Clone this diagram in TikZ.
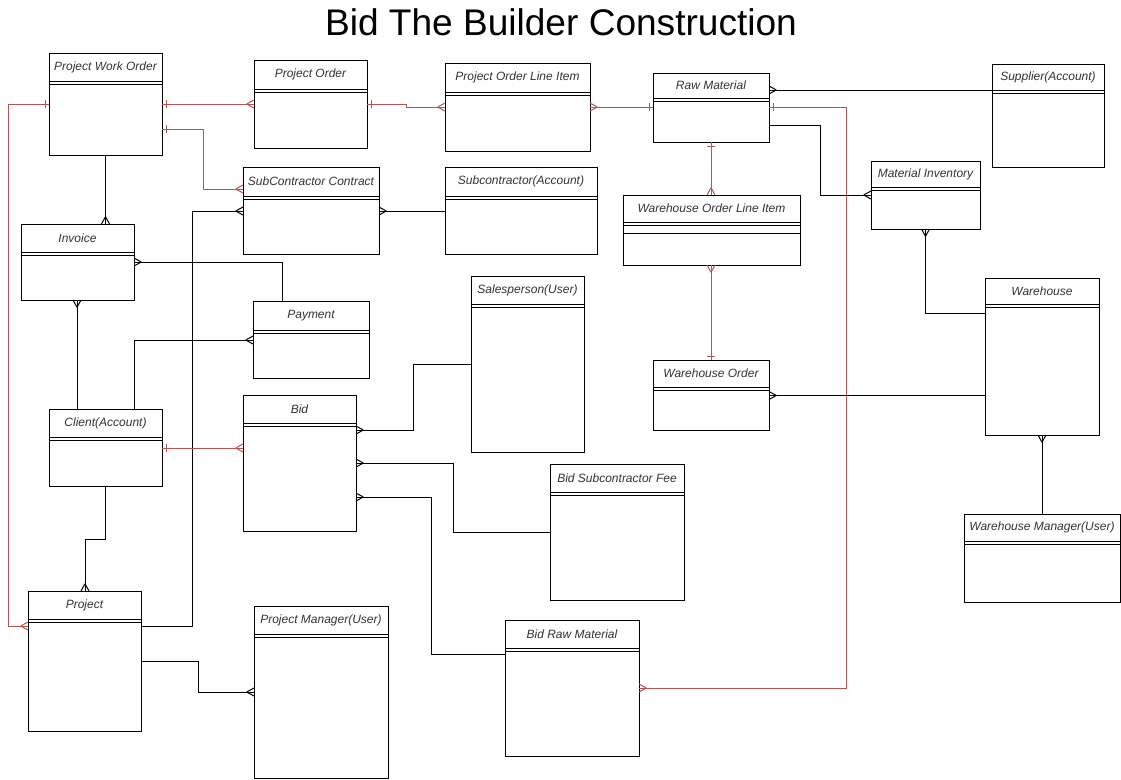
\documentclass[tikz,border=0pt]{standalone}
\usepackage{fontspec}
\setmainfont{Liberation Sans}
\usetikzlibrary{decorations.markings}
\definecolor{er}{RGB}{184,84,80}
\definecolor{ink}{RGB}{0,0,0}
\definecolor{txt}{RGB}{51,51,51}
\tikzset{
  ent/.style={draw=ink, line width=0.75pt, fill=white, inner sep=0pt, outer sep=0pt, rectangle},
  sepline/.style={draw=ink, line width=0.75pt},
  etitle/.style={font=\fontsize{9}{11}\selectfont\itshape, text=txt, inner sep=0pt},
  conn/.style={line width=0.75pt, draw=#1},
  conn/.default=ink,
  crowE/.style={postaction={decorate,decoration={markings,mark=at position 1 with {\draw[#1,line width=0.75pt] (-5.5pt,0)--(0,3pt) (-5.5pt,0)--(0,-3pt);}}}},
  crowE/.default=ink,
  crowS/.style={postaction={decorate,decoration={markings,mark=at position 0 with {\draw[#1,line width=0.75pt] (5.5pt,0)--(0,3pt) (5.5pt,0)--(0,-3pt);}}}},
  crowS/.default=ink,
  barE/.style={postaction={decorate,decoration={markings,mark=at position 1 with {\draw[#1,line width=0.75pt] (-3pt,-3pt)--(-3pt,3pt);}}}},
  barE/.default=ink,
  barS/.style={postaction={decorate,decoration={markings,mark=at position 0 with {\draw[#1,line width=0.75pt] (3pt,-3pt)--(3pt,3pt);}}}},
  barS/.default=ink,
}
% name, x1, y1, x2, y2, separator y, title
\newcommand\entity[7]{%
  \pgfmathsetmacro\ew{(#4-#2)*0.75}%
  \pgfmathsetmacro\eh{(#5-#3)*0.75}%
  \node[ent, minimum width=\ew pt, minimum height=\eh pt, anchor=north west] (#1) at (#2,#3) {};
  \draw[sepline] (#2,#6) -- (#4,#6) (#2,#6+3.5) -- (#4,#6+3.5);
  \node[etitle] (#1-t) at ({(#2+#4)/2},{(#3+#6)/2}) {#7};
}
\begin{document}
\begin{tikzpicture}[x=0.75pt,y=-0.75pt]
\useasboundingbox (0,0) rectangle (1121,779);
\node[font=\fontsize{27.8}{32}\selectfont, text=black] (title) at (561,22) {Bid The Builder Construction};

% entities
\entity{pwo}{49}{53}{162}{155}{81}{Project Work Order}
\entity{po}{254}{60}{367}{148}{89}{Project Order}
\entity{poli}{445}{63}{590}{151}{92}{Project Order Line Item}
\entity{rm}{653}{73}{769}{142}{98}{Raw Material}
\entity{sup}{992}{64}{1104}{167}{90}{Supplier(Account)}
\entity{scc}{243}{167}{379}{254}{196}{SubContractor Contract}
\entity{sca}{445}{167}{597}{254}{196}{Subcontractor(Account)}
\entity{woli}{623}{195}{800}{265}{222}{Warehouse Order Line Item}
\draw[sepline] (623,233) -- (800,233);
\entity{mi}{871}{161}{980}{229}{187}{Material Inventory}
\entity{wh}{985}{278}{1099}{435}{304}{Warehouse}
\entity{whm}{964}{514}{1120}{602}{541}{Warehouse Manager(User)}
\entity{inv}{21}{224}{134}{300}{252}{Invoice}
\entity{pay}{253}{301}{369}{378}{330}{Payment}
\entity{cli}{49}{409}{162}{486}{437}{Client(Account)}
\entity{bid}{243}{395}{356}{531}{423}{Bid}
\entity{sp}{471}{276}{584}{452}{304}{Salesperson(User)}
\entity{wo}{653}{360}{769}{430}{387}{Warehouse Order}
\entity{bsf}{550}{464}{684}{600}{492}{Bid Subcontractor Fee}
\entity{brm}{505}{620}{639}{756}{648}{Bid Raw Material}
\entity{prj}{28}{591}{141}{731}{619}{Project}
\entity{pm}{254}{606}{388}{778}{634}{Project Manager(User)}

% connectors
\draw[conn=er, barS=er, crowE=er] (pwo.west |- 0,104) -- (8,104) -- (8,626) -- (prj.west |- 0,626);
\draw[conn=er, barS=er, crowE=er] (pwo.east |- 0,104) -- (po.west |- 0,104);
\draw[conn=er, barS=er, crowE=er] (pwo.east |- 0,129) -- (203,129) -- (203,189) -- (scc.west |- 0,189);
\draw[conn=er, barS=er, crowE=er] (po.east |- 0,104) -- (406,104) -- (406,107) -- (poli.west |- 0,107);
\draw[conn=er, crowS=er, barE=er] (poli.east |- 0,107) -- (rm.west |- 0,107);
\draw[conn, crowS] (rm.east |- 0,90) -- (sup.west |- 0,90);
\draw[conn=er, barS=er, crowE=er] (rm.east |- 0,107) -- (846,107) -- (846,688) -- (brm.east |- 0,688);
\draw[conn, crowE] (rm.east |- 0,125) -- (820,125) -- (820,195) -- (mi.west |- 0,195);
\draw[conn=er, barS=er, crowE=er] (rm.south) -- (rm.south |- woli.north);
\draw[conn=er, crowS=er, barE=er] (rm.south |- woli.south) -- (rm.south |- wo.north);
\draw[conn, crowS] (mi.south) -- (mi.south |- 0,313) -- (wh.west |- 0,313);
\draw[conn, crowS] (wo.east |- 0,395.5) -- (wh.west |- 0,395.5);
\draw[conn, crowS] (wh.south) -- (wh.south |- whm.north);
\draw[conn, crowS] (scc.east |- 0,211) -- (sca.west |- 0,211);
\draw[conn, crowE] (prj.east |- 0,626) -- (192,626) -- (192,211) -- (scc.west |- 0,211);
\draw[conn, crowE] (pwo.south) -- (pwo.south |- inv.north);
\draw[conn, crowS] (inv.east |- 0,262) -- (282,262) -- (pay.north -| 282,0);
\draw[conn, crowE] (cli.north -| 77,0) -- (inv.south -| 77,0);
\draw[conn, crowE] (cli.north -| 134,0) -- (134,340) -- (pay.west |- 0,340);
\draw[conn=er, barS=er, crowE=er] (cli.east |- 0,448) -- (bid.west |- 0,448);
\draw[conn, crowE] (cli.south) -- (cli.south |- 0,539) -- (85,539) -- (prj.north -| 85,0);
\draw[conn, crowE] (prj.east |- 0,661) -- (198,661) -- (198,692) -- (pm.west |- 0,692);
\draw[conn, crowS] (bid.east |- 0,430) -- (413,430) -- (413,364) -- (sp.west |- 0,364);
\draw[conn, crowS] (bid.east |- 0,463) -- (453,463) -- (453,532) -- (bsf.west |- 0,532);
\draw[conn, crowS] (bid.east |- 0,497) -- (431,497) -- (431,654) -- (brm.west |- 0,654);
\end{tikzpicture}
\end{document}
